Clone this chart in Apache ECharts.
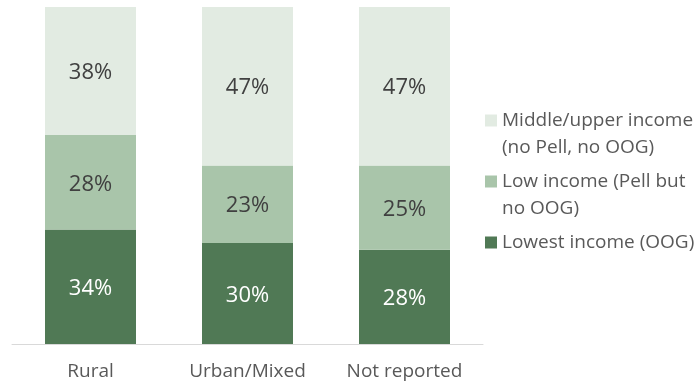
<!DOCTYPE html>
<html>
<head>
<meta charset="utf-8">
<script src="https://cdn.jsdelivr.net/npm/echarts@6/dist/echarts.min.js"></script>
<style>
  html, body { margin: 0; padding: 0; background: #ffffff; }
  #chart { width: 698px; height: 385px; }
</style>
</head>
<body>
<div id="chart"></div>
<script>
// Share of students by income group within each locale (percent)
const categories = ['Rural', 'Urban/Mixed', 'Not reported'];
const lowestIncome = [34, 30, 28];
const lowIncome = [28, 23, 25];
const middleUpperIncome = [38, 47, 47];

const seriesNames = {
  lowest: 'Lowest income (OOG)',
  low: 'Low income (Pell but\nno OOG)',
  middle: 'Middle/upper income\n(no Pell, no OOG)'
};

const colors = {
  lowest: '#507955',
  low: '#a9c5aa',
  middle: '#e2ebe2'
};

const FONT = 'Open Sans';
const LEGEND_LINE = 27;

function segLabel(color) {
  return {
    show: true,
    position: 'inside',
    offset: [0, 2],
    formatter: '{c}%',
    color: color,
    fontFamily: FONT,
    fontSize: 22
  };
}

// One legend block per series so each can be placed on its own; two-line
// names get a leading blank line so the swatch sits level with the first line.
function legendBlock(name, top, twoLines) {
  return {
    data: [name],
    orient: 'vertical',
    left: 485,
    top: top,
    padding: 0,
    itemWidth: 12,
    itemHeight: 12,
    itemGap: 0,
    selectedMode: false,
    icon: 'rect',
    formatter: function (n) { return twoLines ? '\n' + n : n; },
    textStyle: {
      fontFamily: FONT,
      fontSize: 19,
      color: '#595959',
      lineHeight: LEGEND_LINE
    }
  };
}

const chart = echarts.init(document.getElementById('chart'), null, { renderer: 'canvas' });

chart.setOption({
  animation: false,
  backgroundColor: '#ffffff',
  grid: { left: 12, right: 215, top: 7, bottom: 41, containLabel: false },
  legend: [
    legendBlock(seriesNames.middle, 80, true),
    legendBlock(seriesNames.low, 141, true),
    legendBlock(seriesNames.lowest, 229, false)
  ],
  xAxis: {
    type: 'category',
    data: categories,
    axisTick: { show: false },
    axisLine: { lineStyle: { color: '#d9d9d9', width: 1 } },
    axisLabel: {
      fontFamily: FONT,
      fontSize: 19,
      color: '#595959',
      margin: 18
    }
  },
  yAxis: {
    type: 'value',
    min: 0,
    max: 100,
    show: false,
    splitLine: { show: false }
  },
  series: [
    {
      name: seriesNames.lowest,
      type: 'bar',
      stack: 'share',
      data: lowestIncome,
      barWidth: 91,
      itemStyle: { color: colors.lowest },
      label: segLabel('#ffffff')
    },
    {
      name: seriesNames.low,
      type: 'bar',
      stack: 'share',
      data: lowIncome,
      barWidth: 91,
      itemStyle: { color: colors.low },
      label: segLabel('#404040')
    },
    {
      name: seriesNames.middle,
      type: 'bar',
      stack: 'share',
      data: middleUpperIncome,
      barWidth: 91,
      itemStyle: { color: colors.middle },
      label: segLabel('#404040')
    }
  ]
});
</script>
</body>
</html>
